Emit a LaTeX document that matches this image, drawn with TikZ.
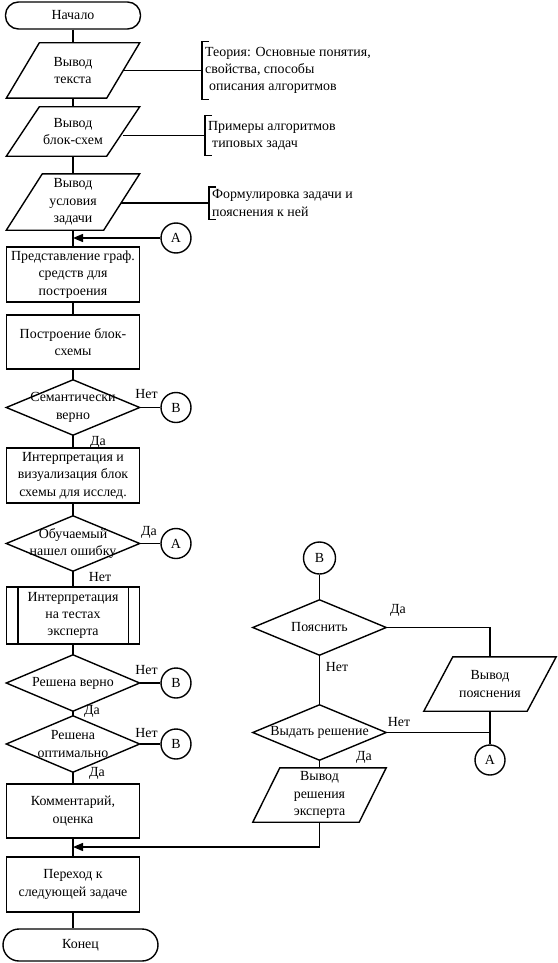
\documentclass[tikz,border=0pt]{standalone}
\usepackage{fontspec}
\setmainfont{Liberation Serif}
\usetikzlibrary{arrows.meta,calc}

\newcommand\drawio[2]{\draw[ln] ([xshift=#2]#1.north west) -- (#1.north east) -- ([xshift=-#2]#1.south east) -- (#1.south west) -- cycle;}
\newcommand\drawdec[1]{\draw[ln] (#1.north) -- (#1.east) -- (#1.south) -- (#1.west) -- cycle;}
\newcommand\drawsub[1]{\draw[ln] ([xshift=12pt]#1.north west) -- ([xshift=12pt]#1.south west) ([xshift=-12pt]#1.north east) -- ([xshift=-12pt]#1.south east);}
\newcommand\drawbrk[1]{\draw[ln] ([xshift=7pt]#1.north west) -- (#1.north west) -- (#1.south west) -- ([xshift=7pt]#1.south west);}

\begin{document}
\begin{tikzpicture}[x=1pt,y=-1pt,
 ln/.style={line width=1.4pt, draw=black},
 base/.style={inner sep=0pt, align=center, font=\fontsize{13.9}{17.3}\selectfont},
 proc/.style={base, ln, minimum width=133pt, minimum height=55pt},
 term/.style={base, ln, rounded corners=13pt, minimum width=135pt, minimum height=27pt},
 io/.style={base, minimum width=133pt, minimum height=55pt},
 dec/.style={base, minimum width=133pt, minimum height=55pt},
 conn/.style={base, ln, circle, minimum size=30pt},
 lbl/.style={base},
 ann/.style={base, align=left, anchor=west, inner xsep=3pt},
 arr/.style={ln, -{Triangle[length=10pt,width=8pt]}},
]
\useasboundingbox (0,0) rectangle (557,963);

% ---- main column ----
\node[term] (start) at (73,15.5) {Начало};
\node[io, minimum height=55pt] (p1) at (73,70.5) {Вывод\\текста};
\drawio{p1}{33pt}
\node[io, minimum height=49pt] (p2) at (73,131.5) {Вывод\\блок-схем};
\drawio{p2}{33pt}
\node[io, minimum height=56pt] (p3) at (73,202) {Вывод\\условия\\задачи};
\drawio{p3}{36pt}

\node[proc] (b1) at (73,274.5) {Представление граф.\\средств для\\построения};
\node[proc, minimum height=54pt] (b2) at (73,342) {Построение блок-\\схемы};
\node[dec] (d1) at (73,407.5) {Семантически\\верно};
\drawdec{d1}
\node[proc] (b3) at (73,475.5) {Интерпретация и\\визуализация блок\\схемы для исслед.};
\node[dec] (d2) at (73,543.5) {Обучаемый\\нашел ошибку};
\drawdec{d2}
\node[proc, minimum height=57pt] (b4) at (73,615.5) {Интерпретация\\на тестах\\эксперта};
\drawsub{b4}
\node[dec, minimum height=56pt] (d3) at (73,683) {Решена верно};
\drawdec{d3}
\node[dec, minimum height=56pt] (d4) at (73,744) {Решена\\оптимально};
\drawdec{d4}
\node[proc, minimum height=54pt] (b5) at (73,811) {Комментарий,\\оценка};
\node[proc] (b6) at (73,884.5) {Переход к\\следующей задаче};
\node[term, minimum width=155pt, minimum height=32pt, rounded corners=16pt] (stop) at (80.5,945) {Конец};

% ---- annotations ----
\node[ann, minimum height=58pt] (a1) at (202,70.5) {Теория: Основные понятия,\\свойства, способы\\\hspace*{4pt}описания алгоритмов};
\drawbrk{a1}
\node[ann, minimum height=40pt] (a2) at (205,135.5) {Примеры алгоритмов\\\hspace*{4pt}типовых задач};
\drawbrk{a2}
\node[ann, minimum height=32pt] (a3) at (209,203) {Формулировка задачи и\\пояснения к ней};
\drawbrk{a3}
\draw[ln] ([xshift=-16.5pt]p1.east) -- (a1.west);
\draw[ln] ([xshift=-16.5pt]p2.east |- a2.west) -- (a2.west);
\draw[ln] ([xshift=-19pt]p3.east |- a3.west) -- (a3.west);

% ---- connector circles, left ----
\node[conn] (A1) at (176,238) {A};
\node[conn] (B1) at (176,407.5) {B};
\node[conn] (A2) at (176,543.5) {A};
\node[conn] (B2) at (176,683) {B};
\node[conn] (B3) at (176,744) {B};

% ---- right branch ----
\node[conn, minimum size=32pt] (B4) at (319.5,558) {B};
\node[dec] (d5) at (319.5,627.5) {Пояснить};
\drawdec{d5}
\node[io, minimum width=132pt, minimum height=54pt] (p4) at (490,684) {Вывод\\пояснения};
\drawio{p4}{29pt}
\node[dec] (d6) at (319.5,732.5) {Выдать решение};
\drawdec{d6}
\node[conn] (A3) at (490,760) {A};
\node[io, minimum height=54pt] (p5) at (319.5,795) {Вывод\\решения\\эксперта};
\drawio{p5}{27pt}
\coordinate (j2) at (73,847);

% ---- main connectors ----
\draw[ln] (start) -- (p1);
\draw[ln] (p1) -- (p2);
\draw[ln] (p2) -- (p3);
\draw[ln] (p3) -- (b1);
\draw[ln] (b1) -- (b2);
\draw[ln] (b2) -- (d1);
\draw[ln] (d1) -- (b3);
\draw[ln] (b3) -- (d2);
\draw[ln] (d2) -- (b4);
\draw[ln] (b4) -- (d3);
\draw[ln] (d3) -- (d4);
\draw[ln] (d4) -- (b5);
\draw[ln] (b5) -- (b6);
\draw[ln] (b6.south) -- (b6.south |- stop.north);
\draw[arr] (A1.west) -- (A1.west -| p3.south);
\draw[ln] (d1.east) -- (B1.west);
\draw[ln] (d2.east) -- (A2.west);
\draw[ln] (d3.east) -- (B2.west);
\draw[ln] (d4.east) -- (B3.west);

% ---- right connectors ----
\draw[ln] (B4) -- (d5);
\draw[ln] (d5) -- (d6);
\draw[ln] (d6) -- (p5);
\draw[ln] (d5.east) -| (p4.north);
\draw[ln] (p4.south) -- (A3.north);
\draw[ln] (d6.east) -- (d6.east -| p4.south);
\draw[arr] (p5.south) |- (j2);

% ---- branch labels ----
\node[lbl] (l1) at (146.5,394) {Нет};
\node[lbl] (l2) at (98,442) {Да};
\node[lbl] (l3) at (149,532) {Да};
\node[lbl] (l4) at (100,577) {Нет};
\node[lbl] (l5) at (146.5,670) {Нет};
\node[lbl] (l6) at (92,711) {Да};
\node[lbl] (l7) at (146.5,733) {Нет};
\node[lbl] (l8) at (97,773) {Да};
\node[lbl] (l9) at (398,610) {Да};
\node[lbl] (l10) at (337,667) {Нет};
\node[lbl] (l11) at (399,722) {Нет};
\node[lbl] (l12) at (364,757) {Да};
\end{tikzpicture}
\end{document}
